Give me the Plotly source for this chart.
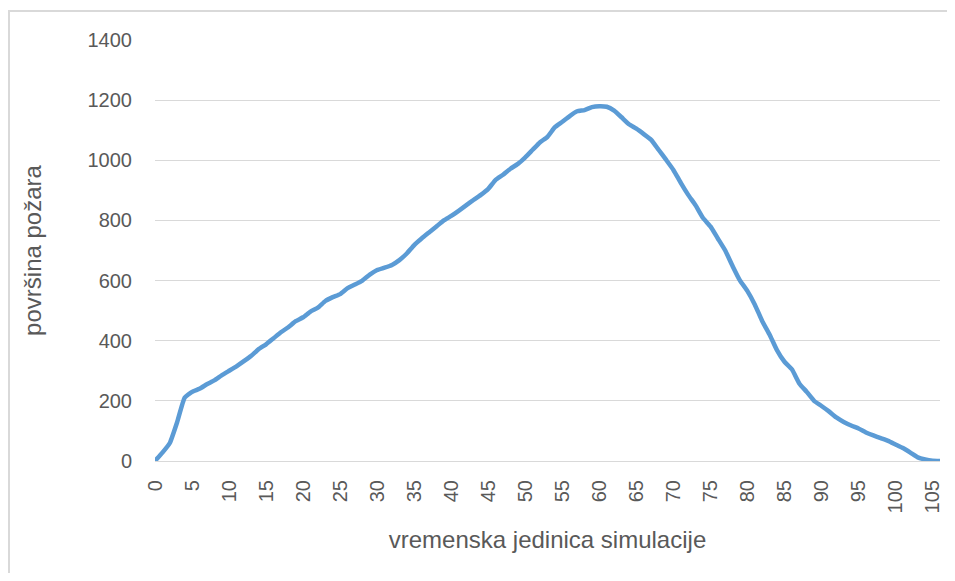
import plotly.graph_objects as go

time_units = list(range(0, 107))
fire_area = [
    0, 28, 60, 130, 210, 230, 240, 255, 268, 285,
    300, 315, 332, 350, 372, 388, 408, 428, 445, 465,
    478, 497, 510, 532, 545, 555, 575, 587, 600, 620,
    635, 643, 652, 668, 690, 718, 740, 760, 780, 800,
    815, 832, 850, 868, 885, 905, 935, 952, 972, 988,
    1010, 1035, 1060, 1078, 1110, 1128, 1147, 1163, 1167, 1177,
    1180, 1178, 1165, 1143, 1120, 1105, 1087, 1068, 1035, 1002,
    968, 925, 885, 850, 808, 780, 740, 700, 648, 600,
    565, 520, 465, 420, 368, 330, 305, 258, 230, 200,
    183, 165, 145, 130, 118, 108, 95, 85, 76, 67,
    55, 43, 28, 12, 5, 1, 0,
]
x_ticks = list(range(0, 106, 5))
y_ticks = list(range(0, 1401, 200))

# page offset from default body margin
OFF = 8
W, H = 955 - OFF, 581 - 2 * OFF
L, R, T, B = 155 - OFF, 940 - OFF, 40 - OFF, 461 - OFF

fig = go.Figure()
fig.add_trace(go.Scatter(
    x=time_units, y=fire_area, mode="lines",
    line=dict(color="#5B9BD5", width=4.5, shape="spline", smoothing=0.4),
    hoverinfo="x+y", showlegend=False,
))

def px_to_paper_x(p):
    return (p - OFF - L) / (R - L)

def px_to_paper_y(p):
    return (B - (p - OFF)) / (B - T)

border = dict(color="#D9D9D9", width=2)
# top border
fig.add_shape(type="line", xref="paper", yref="paper",
              x0=px_to_paper_x(8), x1=px_to_paper_x(955),
              y0=px_to_paper_y(11), y1=px_to_paper_y(11),
              line=border, layer="below")
# left border
fig.add_shape(type="line", xref="paper", yref="paper",
              x0=px_to_paper_x(9), x1=px_to_paper_x(9),
              y0=px_to_paper_y(10), y1=px_to_paper_y(581),
              line=border, layer="below")

font_family = "Liberation Sans"
fig.update_layout(
    width=W, height=H,
    margin=dict(l=L, r=W - R, t=T, b=H - B),
    paper_bgcolor="white", plot_bgcolor="white",
    font=dict(family=font_family, color="#595959", size=20),
    xaxis=dict(
        range=[0, 106], tickmode="array", tickvals=x_ticks,
        ticktext=[str(v) for v in x_ticks], tickangle=-90,
        showgrid=False, zeroline=False, showline=True,
        linecolor="#D9D9D9", linewidth=1, ticks="",
        ticklabelstandoff=10,
        tickfont=dict(size=20, color="#595959"),
        title=dict(text="vremenska jedinica simulacije",
                   font=dict(size=24, color="#595959"), standoff=18),
    ),
    yaxis=dict(
        range=[0, 1400], tickmode="array", tickvals=y_ticks,
        showgrid=True, gridcolor="#D9D9D9", gridwidth=1,
        zeroline=False, showline=False, ticks="",
        tickfont=dict(size=20, color="#595959"),
        ticklabelstandoff=22,
        title=dict(text="površina požara",
                   font=dict(size=24, color="#595959"), standoff=39),
    ),
)

fig.write_html("out.html")
